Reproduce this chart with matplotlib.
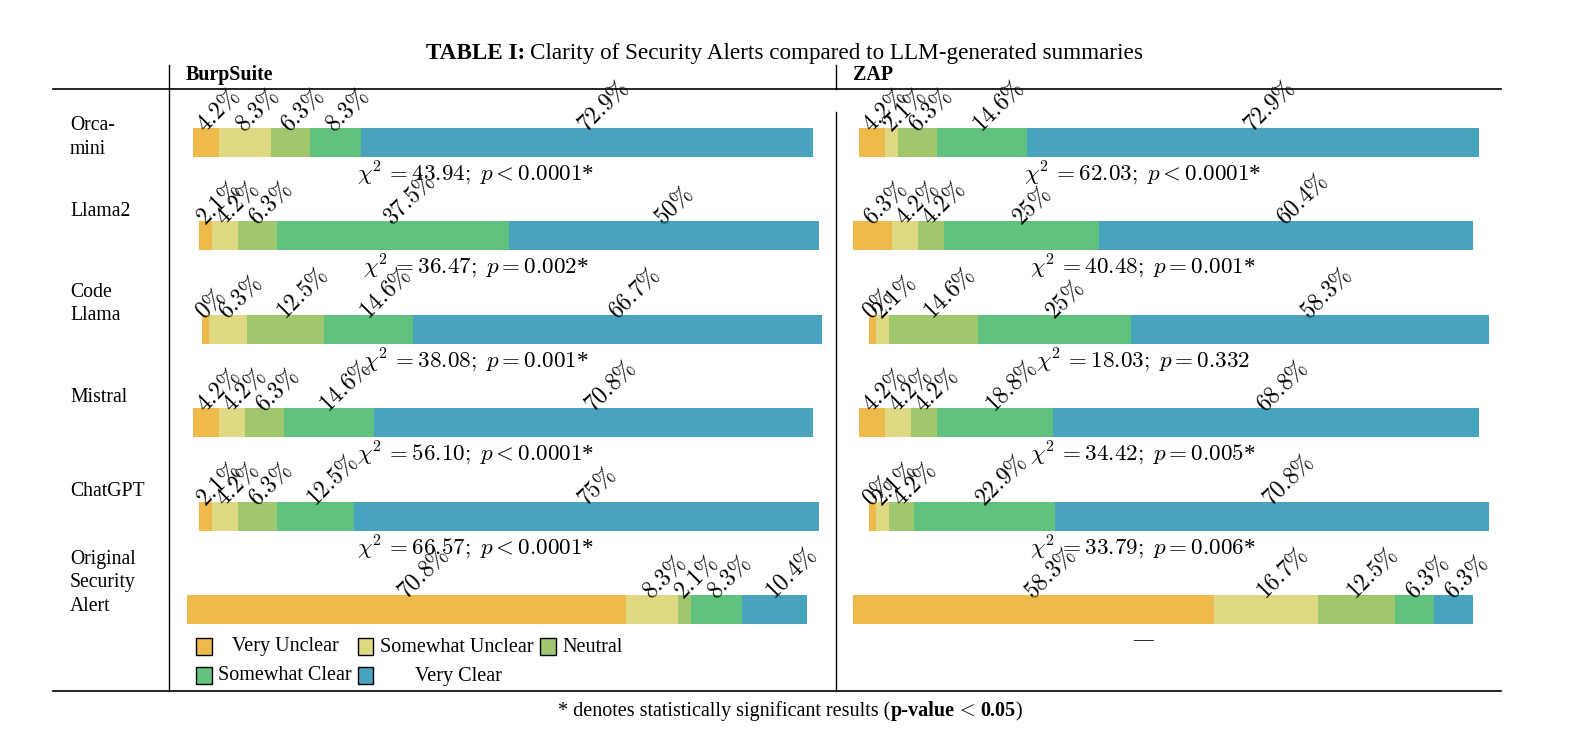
import numpy as np
import matplotlib
matplotlib.use('Agg')
import matplotlib.pyplot as plt
from matplotlib.lines import Line2D
from matplotlib.patches import Rectangle

plt.rcParams['font.family'] = ['Liberation Serif', 'DejaVu Serif']
plt.rcParams['mathtext.fontset'] = 'cm'

models = ['Orca-\nmini', 'Llama2', 'Code\nLlama', 'Mistral', 'ChatGPT', 'Original\nSecurity\nAlert']
categories = ['Very Unclear', 'Somewhat Unclear', 'Neutral', 'Somewhat Clear', 'Very Clear']
colors = ['#EFBA4C', '#E0D983', '#A0C76D', '#61C17F', '#48A4BE']

burp_pct = [
    [4.2, 8.3, 6.3, 8.3, 72.9],
    [2.1, 4.2, 6.3, 37.5, 50],
    [0, 6.3, 12.5, 14.6, 66.7],
    [4.2, 4.2, 6.3, 14.6, 70.8],
    [2.1, 4.2, 6.3, 12.5, 75],
    [70.8, 8.3, 2.1, 8.3, 10.4],
]
zap_pct = [
    [4.2, 2.1, 6.3, 14.6, 72.9],
    [6.3, 4.2, 4.2, 25, 60.4],
    [0, 2.1, 14.6, 25, 58.3],
    [4.2, 4.2, 4.2, 18.8, 68.8],
    [0, 2.1, 4.2, 22.9, 70.8],
    [58.3, 16.7, 12.5, 6.3, 6.3],
]

# chi-square results (LLM summary vs original alert)
burp_chi = [43.94, 36.47, 38.08, 56.10, 66.57]
burp_prel = ['<', '=', '=', '<', '<']
burp_pval = [0.0001, 0.002, 0.001, 0.0001, 0.0001]
zap_chi = [62.03, 40.48, 18.03, 34.42, 33.79]
zap_prel = ['<', '=', '=', '=', '=']
zap_pval = [0.0001, 0.001, 0.332, 0.005, 0.006]
alpha = 0.05

# ---- layout (pixels of the 1580x729 output) ----
W, H = 1580, 729
bar_w, bar_h = 620, 29
row_top = [128, 221, 315, 408, 502, 595]
burp_left = [193, 199, 202, 193, 199, 187]
zap_left = [859, 853, 869, 859, 869, 853]
label_y = [137.5, 212, 304, 398, 492, 583]

fig = plt.figure(figsize=(W / 100, H / 100), dpi=100)


def fx(x):
    return x / W


def fy(y):
    return 1 - y / H


def hline(x0, x1, y, lw=1.2):
    fig.add_artist(Line2D([fx(x0), fx(x1)], [fy(y), fy(y)], color='black', lw=lw))


def vline(x, y0, y1, lw=1.0):
    fig.add_artist(Line2D([fx(x), fx(x)], [fy(y0), fy(y1)], color='black', lw=lw))


def draw_bar(left, top, vals):
    ax = fig.add_axes([fx(left), fy(top + bar_h), bar_w / W, bar_h / H])
    vals = np.array(vals, dtype=float)
    # a 0% share still shows up as a thin sliver in the original
    disp = np.where(vals == 0, 1.1, vals)
    starts = np.concatenate([[0], np.cumsum(disp)[:-1]])
    ax.barh(0, disp, left=starts, height=1, color=colors, linewidth=0)
    ax.set_xlim(0, disp.sum())
    ax.set_ylim(-0.5, 0.5)
    ax.axis('off')
    for s, d, v in zip(starts, disp, vals):
        ax.annotate(f'${v:g}\\%$', xy=(s + d / 2, 0.5), xytext=(-4, 0),
                    textcoords='offset points', rotation=45, rotation_mode='anchor',
                    ha='left', va='center', fontsize=17, annotation_clip=False)


def text_runs(runs, xc, y, size):
    r = fig.canvas.get_renderer()
    items = []
    for s, weight, gap in runs:
        t = fig.text(0, fy(y), s, fontsize=size, fontweight=weight, ha='left', va='baseline')
        items.append((t, t.get_window_extent(r).width, gap))
    total = sum(w + g for _, w, g in items) - items[-1][2]
    x = xc - total / 2
    for t, w, g in items:
        t.set_x(fx(x))
        x += w + g


def chi_text(chi, rel, p):
    star = '*' if p < alpha else ''
    return rf'$\chi^2\, = {chi:.2f};\; p {rel} {p:g}$' + star


# title and header
sp = 4.5
text_runs([('TABLE I:', 'bold', sp),
           ('Clarity of Security Alerts compared to LLM-generated summaries', 'normal', 0)],
          784.5, 59, 16.7)
fig.text(fx(186), fy(75), 'BurpSuite', fontsize=14.4, fontweight='bold', va='center')
fig.text(fx(853), fy(75), 'ZAP', fontsize=14.4, fontweight='bold', va='center')

# table rules
hline(53, 1501, 89)
hline(53, 1501, 691)
vline(168.5, 65, 691)
vline(835.7, 65, 89)
vline(835.7, 112, 691)

# rows
for i, name in enumerate(models):
    fig.text(fx(70), fy(label_y[i]), name, fontsize=14.2, va='center', ha='left',
             linespacing=1.3)
    draw_bar(burp_left[i], row_top[i], burp_pct[i])
    draw_bar(zap_left[i], row_top[i], zap_pct[i])
    if i < len(burp_chi):
        fig.text(fx(476), fy(row_top[i] + 45), chi_text(burp_chi[i], burp_prel[i], burp_pval[i]),
                 fontsize=16.6, ha='center', va='center')
        fig.text(fx(1143), fy(row_top[i] + 45), chi_text(zap_chi[i], zap_prel[i], zap_pval[i]),
                 fontsize=16.6, ha='center', va='center')

fig.text(fx(1143), fy(641), '\u2014', fontsize=14.2, ha='center', va='center')

# legend
box_x = [196, 357.7, 540, 196, 357.7]
box_y = [638, 638, 638, 667, 667]
txt_x = [231.7, 380, 562, 218, 415]
for c, name, bx, by, tx in zip(colors, categories, box_x, box_y, txt_x):
    fig.add_artist(Rectangle((fx(bx), fy(by + 17)), 15.5 / W, 17 / H, facecolor=c,
                             edgecolor='black', lw=1.0, transform=fig.transFigure))
    fig.text(fx(tx), fy(by + 9), name, fontsize=14.5, va='center', ha='left')

# footnote
text_runs([('* denotes statistically significant results (', 'normal', 0),
           ('p-value', 'bold', 2),
           ('$<$', 'normal', sp),
           ('0.05', 'bold', 0),
           (')', 'normal', 0)],
          790, 716, 14.5)

fig.savefig('out.png', dpi=100)
